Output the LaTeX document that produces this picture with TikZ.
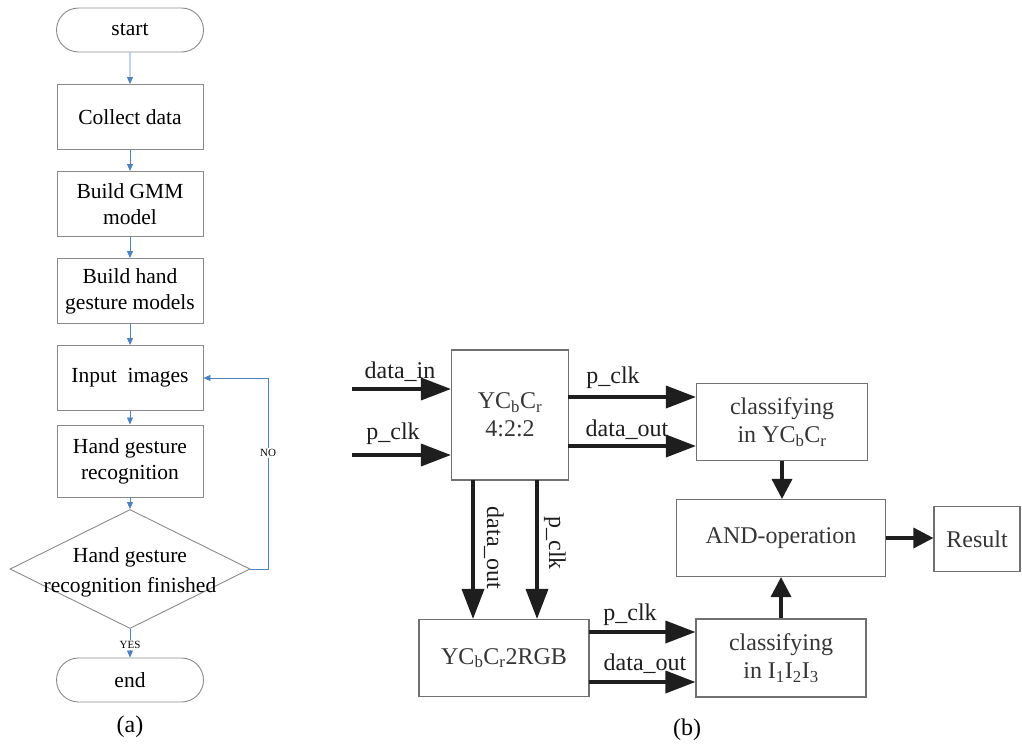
\documentclass[tikz,border=0pt]{standalone}
\usepackage{fontspec}
\setmainfont{Liberation Serif}
\usetikzlibrary{arrows.meta,shapes.geometric,shapes.misc}
\definecolor{flowblue}{HTML}{4F81BD}
\definecolor{boxgray}{HTML}{8A8A8A}
\definecolor{edgegray}{HTML}{707070}
\definecolor{ink}{HTML}{1E1E1E}
\newcommand{\ycc}{YC\textsubscript{b}C\textsubscript{r}}

\begin{document}
\begin{tikzpicture}[x=1pt,y=-1pt,
  fbox/.style={draw=boxgray, line width=0.9pt, rectangle, minimum width=146pt,
    minimum height=65pt, inner sep=0pt, align=center,
    font=\fontsize{21.5}{26}\selectfont},
  term/.style={draw=boxgray, line width=0.9pt, rounded rectangle,
    minimum width=147pt, minimum height=44pt, inner sep=0pt,
    font=\fontsize{21.5}{26}\selectfont},
  flow/.style={draw=flowblue, line width=0.8pt, -{Triangle[length=7pt,width=6pt]}},
  tag/.style={font=\fontsize{11}{12}\selectfont, fill=white, inner sep=1pt},
  hbox/.style={draw=edgegray, line width=1.1pt, rectangle, inner sep=0pt, align=center,
    text=ink!90, font=\fontsize{24}{28}\selectfont},
  bus/.style={draw=ink, line width=3.5pt, -{Triangle[length=30pt,width=22pt]}},
  sbus/.style={draw=ink, line width=3.5pt, -{Triangle[length=20pt,width=20pt]}},
  sig/.style={font=\fontsize{24}{28}\selectfont, inner sep=0pt, text=ink},
  subcap/.style={font=\fontsize{24}{28}\selectfont, inner sep=0pt},
]
\useasboundingbox (0,0) rectangle (1022,745);

% ---------- (a) flowchart ----------
\node[term] (start) at (130,30) {start};
\node[fbox] (collect) at (130,117) {Collect data};
\node[fbox] (gmm) at (130,204) {Build GMM\\model};
\node[fbox] (models) at (130,291) {Build hand\\gesture models};
\node[fbox] (input) at (130,378) {Input\ \ images};
\node[fbox, minimum height=72pt] (recog) at (130,461) {Hand gesture\\recognition};
\node[diamond, draw=boxgray, line width=0.9pt, minimum width=240pt,
  minimum height=119pt, inner sep=0pt] (dec) at (130,569) {};
\node[align=center, font=\fontsize{21.5}{30}\selectfont] (dectext) at (130,572)
  {Hand gesture\\recognition finished};
\node[term] (end) at (130,680) {end};
\node[subcap] (capa) at (130,727) {(a)};

\draw[flow] (start) -- (collect);
\draw[flow] (collect) -- (gmm);
\draw[flow] (gmm) -- (models);
\draw[flow] (models) -- (input);
\draw[flow] (input) -- (recog);
\draw[flow] (recog) -- (dec);
\draw[flow] (dec) -- (end);
\coordinate (loopc) at (268,569);
\draw[flow] (dec.east) -- (loopc) |- (input.east);
\node[tag] (no) at (268,453) {NO};
\node[tag] (yes) at (130,645) {YES};

% ---------- (b) block diagram ----------
\node[hbox, minimum width=117pt, minimum height=130pt] (conv) at (510,415)
  {\ycc\\4:2:2};
\node[hbox, minimum width=171pt, minimum height=77pt] (cy) at (782,422)
  {classifying\\in \ycc};
\node[hbox, minimum width=209pt, minimum height=77pt] (andop) at (781,538)
  {AND-operation};
\node[hbox, minimum width=86pt, minimum height=65pt] (res) at (977,539)
  {Result};
\node[hbox, minimum width=170pt, minimum height=77pt] (rgb) at (504,658)
  {\ycc 2RGB};
\node[hbox, minimum width=170pt, minimum height=78pt] (ci) at (781,658)
  {classifying\\in I\textsubscript{1}I\textsubscript{2}I\textsubscript{3}};

% inputs of the 4:2:2 block
\coordinate (din) at (352,389);
\coordinate (pin) at (352,455);
\draw[bus] (din) -- (din -| conv.west);
\draw[bus] (pin) -- (pin -| conv.west);
\node[sig] (ldin) at (400,372) {data\_in};
\node[sig] (lpin) at (393,434) {p\_clk};

% 4:2:2 block to YCbCr classifier
\coordinate (pa) at (568,397);
\coordinate (da) at (568,446);
\draw[bus] (pa) -- (pa -| cy.west);
\draw[bus] (da) -- (da -| cy.west);
\node[sig] (lpa) at (613,378) {p\_clk};
\node[sig] (lda) at (627,430) {data\_out};

% 4:2:2 block down to the RGB converter
\coordinate (dv) at (473,480);
\coordinate (pv) at (537,480);
\draw[bus] (dv) -- (dv |- rgb.north);
\draw[bus] (pv) -- (pv |- rgb.north);
\node[sig, rotate=-90] (ldv) at (494,548) {data\_out};
\node[sig, rotate=-90] (lpv) at (555,543) {p\_clk};

% RGB converter to I1I2I3 classifier
\coordinate (pb) at (589,632);
\coordinate (db) at (589,682);
\draw[bus] (pb) -- (pb -| ci.west);
\draw[bus] (db) -- (db -| ci.west);
\node[sig] (lpb) at (630,615) {p\_clk};
\node[sig] (ldb) at (645,664) {data\_out};

% classifiers into the AND stage and on to the result
\draw[sbus] (cy.south) -- (cy.south |- andop.north);
\draw[sbus] (ci.north) -- (ci.north |- andop.south);
\draw[sbus] (andop.east) -- (andop.east -| res.west);

\node[subcap] (capb) at (687,730) {(b)};
\end{tikzpicture}
\end{document}
